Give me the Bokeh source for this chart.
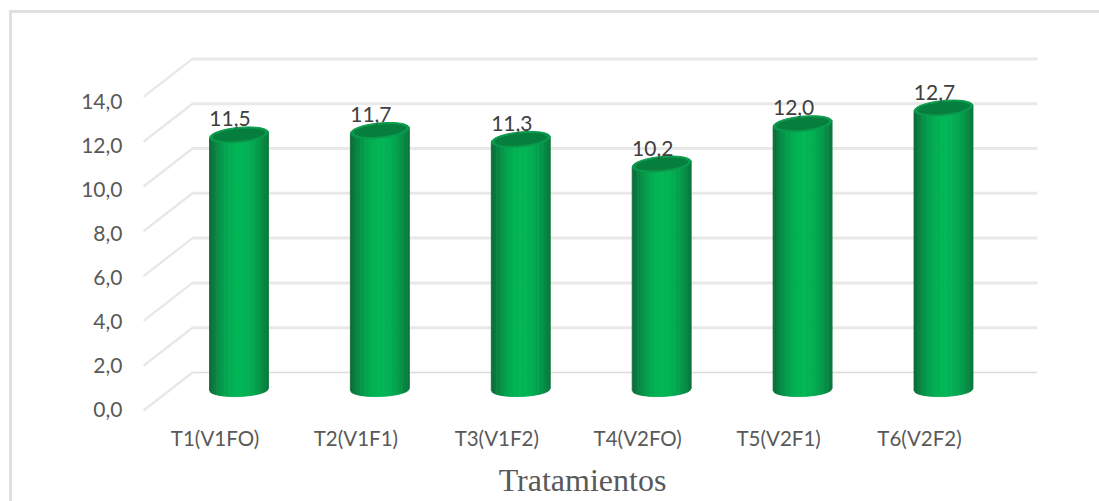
from math import sqrt, radians, cos

from bokeh.embed import file_html
from bokeh.models import ColumnDataSource, FixedTicker, LinearAxis, Range1d
from bokeh.plotting import figure
from bokeh.resources import INLINE
from bokeh.core.properties import value

# Values per treatment
categories = ["T1(V1FO)", "T2(V1F1)", "T3(V1F2)", "T4(V2FO)", "T5(V2F1)", "T6(V2F2)"]
rendimiento = [11.5, 11.7, 11.3, 10.2, 12.0, 12.7]
value_labels = ["11,5", "11,7", "11,3", "10,2", "12,0", "12,7"]
y_ticks = [0, 2, 4, 6, 8, 10, 12, 14]
y_tick_labels = ["0,0", "2,0", "4,0", "6,0", "8,0", "10,0", "12,0", "14,0"]
axis_title = "Tratamientos"

# Layout of the drawing area, in page pixels
W, H = 1099, 501
F_L, F_R, F_T, F_B = 127, 1037, 20, 425
STEP = 140.9           # distance between neighbouring cylinders
BAR_X0 = 238.5         # first cylinder centre
LABEL_X0 = 214.5       # first category label centre
BAR_BASE, BAR_SCALE = 392.0, 22.4
WALL_BASE, WALL_SCALE = 372.0, 22.4
FRONT_BASE, FRONT_SCALE = 408.5, 22.0
WALL_X0, WALL_X1 = 192.0, 1037.0
DEPTH_DX, DEPTH_DY = 49.0, 38.0
RADIUS = 29.5
TILT = 3.0             # rise of the right cylinder edge against its centre, px
BULGE = 7.0            # sag of the cylinder's lower rim, px
RIM_LIFT = 3.0         # lower rim ends sit this far above the zero level, px


def y_range_for(base, scale):
    return Range1d((base - F_B) / scale, (base - F_T) / scale)


def x_range_for(x0):
    return Range1d((F_L - x0) / STEP, (F_R - x0) / STEP)


# Page background carries the chart frame, open at the right and bottom edges
frame_css = ("linear-gradient(#dfdfdf,#dfdfdf) 9px 10px / 100% 3px no-repeat, "
             "linear-gradient(#dfdfdf,#dfdfdf) 9px 10px / 3px 100% no-repeat, white")

p = figure(width=W, height=H, output_backend="svg", toolbar_location=None,
           x_axis_type=None, y_axis_type=None,
           min_border_left=F_L, min_border_right=W - F_R,
           min_border_top=F_T, min_border_bottom=H - F_B,
           background_fill_color=None, border_fill_color=None,
           outline_line_color=None, styles={"background": frame_css})
p.grid.visible = False
p.x_range = x_range_for(BAR_X0)
p.y_range = y_range_for(BAR_BASE, BAR_SCALE)
p.extra_y_ranges = {"wall": y_range_for(WALL_BASE, WALL_SCALE),
                    "front": y_range_for(FRONT_BASE, FRONT_SCALE)}
p.extra_x_ranges = {"labels": x_range_for(LABEL_X0)}

# Wall and floor gridlines of the 3D box
wx0 = (WALL_X0 - BAR_X0) / STEP
wx1 = (WALL_X1 - BAR_X0) / STEP
wxf = (WALL_X0 - DEPTH_DX - BAR_X0) / STEP
dv = DEPTH_DY / WALL_SCALE
for t in y_ticks:
    col = "#dcdcdc" if t == 0 else "#e8e8e8"
    lw = 1.6 if t == 0 else 3
    p.line([wx0, wx1], [t, t], y_range_name="wall", line_color=col, line_width=lw)
    p.line([wxf, wx0], [t - dv, t], y_range_name="wall", line_color="#e8e8e8", line_width=2.4)


def mix(a, b, k):
    ca = [int(a[i:i + 2], 16) for i in (1, 3, 5)]
    cb = [int(b[i:i + 2], 16) for i in (1, 3, 5)]
    return "#%02x%02x%02x" % tuple(round(x + (y - x) * k) for x, y in zip(ca, cb))


def shade(u):
    c = cos(radians(90 * min(abs(u - 0.05), 1)))
    return mix("#0b6a37", "#00b554", c ** 0.8)


# Cylinders: vertical strips give the round shading
N = 36
xs, ys, cols = [], [], []
for i, v in enumerate(rendimiento):
    for s in range(N):
        u0, u1 = -1 + 2 * s / N, -1 + 2 * (s + 1) / N
        px = [u0, u1, u1, u0]
        xs.append([i + u * RADIUS / STEP for u in px])
        low0 = (RIM_LIFT - BULGE * sqrt(max(1 - u0 * u0, 0)) + u0) / BAR_SCALE
        low1 = (RIM_LIFT - BULGE * sqrt(max(1 - u1 * u1, 0)) + u1) / BAR_SCALE
        up0 = v + TILT * u0 / BAR_SCALE
        up1 = v + TILT * u1 / BAR_SCALE
        ys.append([low0, low1, up1, up0])
        cols.append(shade((u0 + u1) / 2))
p.patches(xs, ys, fill_color=cols, line_color=cols, line_width=0.8)

tops = ColumnDataSource(dict(x=list(range(len(rendimiento))), y=rendimiento,
                             label=value_labels))
p.ellipse("x", "y", width=2 * RADIUS, height=15, angle=radians(5.5),
          width_units="screen", height_units="screen", source=tops,
          fill_color="#0a9a4c", line_color="#0a9a4c", line_width=1)
p.ellipse("x", "y", width=2 * RADIUS - 6, height=12, angle=radians(5.5),
          width_units="screen", height_units="screen", source=tops,
          fill_color="#067f3e", line_color=None)

# Value labels over the cylinders
p.text("x", "y", text="label", source=tops, text_font=value("Lato"),
       text_font_size="21px", text_color="#404040", text_align="center",
       text_baseline="middle", x_offset=-9, y_offset=-16)

# Axes
left = LinearAxis(y_range_name="front", ticker=FixedTicker(ticks=y_ticks),
                  major_label_overrides=dict(zip(y_ticks, y_tick_labels)),
                  axis_line_color=None, major_tick_line_color=None,
                  minor_tick_line_color=None, major_label_standoff=5,
                  major_tick_out=0, major_tick_in=0,
                  major_label_text_font="Lato", major_label_text_font_size="21px",
                  major_label_text_color="#595959")
p.add_layout(left, "left")

positions = list(range(len(categories)))
bottom = LinearAxis(x_range_name="labels", ticker=FixedTicker(ticks=positions),
                    major_label_overrides=dict(zip(positions, categories)),
                    axis_line_color=None, major_tick_line_color=None,
                    minor_tick_line_color=None, major_label_standoff=0,
                    major_tick_out=0, major_tick_in=0,
                    major_label_text_font="Lato", major_label_text_font_size="20.5px",
                    major_label_text_color="#595959",
                    axis_label=axis_title, axis_label_standoff=9,
                    axis_label_text_font="Liberation Serif",
                    axis_label_text_font_style="normal",
                    axis_label_text_font_size="32px",
                    axis_label_text_color="#595959")
p.add_layout(bottom, "below")

open("out.html", "w").write(file_html(p, INLINE))
